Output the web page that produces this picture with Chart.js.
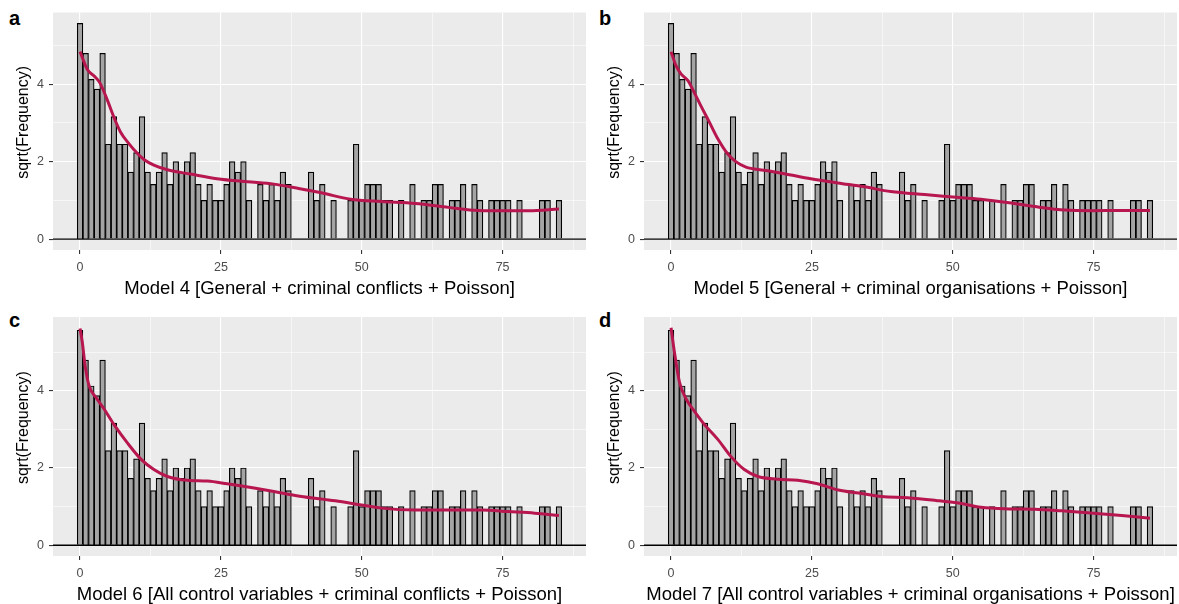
<!DOCTYPE html>
<html><head><meta charset="utf-8">
<script src="https://cdn.jsdelivr.net/npm/chart.js@4"></script>
<style>
html,body{margin:0;padding:0;background:#fff;width:1179px;height:604px;overflow:hidden;position:relative;}
canvas{position:absolute;}
.lbl{position:absolute;font:bold 20px "Liberation Sans",Arial,sans-serif;color:#000;line-height:23px;}
</style></head><body>
<div class="lbl" style="left:9px;top:7px">a</div>
<div class="lbl" style="left:599px;top:7px">b</div>
<div class="lbl" style="left:9px;top:309px">c</div>
<div class="lbl" style="left:599px;top:309px">d</div>
<canvas id="pa" width="590" height="302" style="left:0;top:0"></canvas>
<canvas id="pb" width="588" height="302" style="left:591px;top:0"></canvas>
<canvas id="pc" width="590" height="306" style="left:0;top:302px"></canvas>
<canvas id="pd" width="588" height="306" style="left:591px;top:302px"></canvas>
<script>
// ---- data ----
const countValues = Array.from({length: 86}, (_, k) => k); // 0..85
const frequency = [31,23,17,15,23,6,10,6,6,3,
                   5,10,3,2,3,5,2,4,3,4,
                   5,2,1,2,1,1,2,4,3,4,
                   1,0,2,1,2,1,3,2,0,0,
                   0,3,1,2,0,1,0,0,1,6,
                   1,2,2,2,1,1,0,1,0,2,
                   0,1,1,2,2,0,1,1,2,0,
                   2,1,0,1,1,1,1,0,1,0,
                   0,0,1,1,0,1];
const xTickValues = [0, 25, 50, 75];
const yTickValues = [0, 2, 4];

// fitted curves (sqrt of expected frequency)
const m4x = [0,1.3,2.5,3.5,4.9,6,7.2,8.7,10.2,11.4,13.1,15.5,19.6,24.3,29.7,34.4,39,43,48,53.5,59.5,65.4,70.7,75,79.6,85];
const m4y = [4.84,4.38,4.21,4.04,3.57,3.15,2.76,2.46,2.21,2.05,1.91,1.79,1.68,1.56,1.48,1.42,1.30,1.19,1.03,0.97,0.92,0.82,0.74,0.73,0.73,0.78];
const m5x = [0,0.9,1.8,3,4.1,5.3,6.8,8.3,10,11.5,13.3,16.5,20.1,24.8,29.6,34.3,39,45,50,55,60,64.6,70,74.6,80,85];
const m5y = [4.84,4.47,4.26,4.09,3.79,3.44,3.02,2.59,2.21,2.0,1.86,1.78,1.69,1.56,1.45,1.35,1.23,1.15,1.09,1.03,0.94,0.84,0.75,0.735,0.74,0.74];
const m6x = [0,0.4,0.9,1.6,2.8,4.3,6,8.4,10.8,13.1,15.5,19,22.6,26.1,30.9,34.4,39,45.3,50,53.5,59.5,65.4,71.3,76,80.7,85];
const m6y = [5.61,5.26,4.65,4.13,3.83,3.52,3.13,2.65,2.23,1.96,1.78,1.68,1.66,1.59,1.48,1.39,1.27,1.15,1.04,0.96,0.91,0.91,0.91,0.87,0.83,0.77];
const m7x = [0,0.6,1.5,2.7,4.1,5.9,8.3,10.6,13,15.4,18.9,22.5,26,29.7,33.3,37.4,42,47,51,55,60,64.6,69.3,74,80,85];
const m7y = [5.63,5.0,4.22,3.78,3.48,3.13,2.74,2.30,1.96,1.78,1.71,1.68,1.59,1.43,1.35,1.26,1.23,1.16,1.09,0.98,0.94,0.93,0.89,0.84,0.77,0.70];

const titles = [
  'Model 4 [General + criminal conflicts + Poisson]',
  'Model 5 [General + criminal organisations + Poisson]',
  'Model 6 [All control variables + criminal conflicts + Poisson]',
  'Model 7 [All control variables + criminal organisations + Poisson]'
];
const yTitle = '    sqrt(Frequency)';

// ---- drawing ----
const FAM = '"Liberation Sans", Arial, sans-serif';
const xMin = -4.8, xMax = 89.8, yMin = -0.28;

const panelBg = {
  id: 'panelBg',
  beforeDraw(chart) {
    const {ctx, chartArea: a} = chart;
    ctx.save(); ctx.fillStyle = '#EBEBEB';
    ctx.fillRect(a.left, a.top, a.right - a.left, a.bottom - a.top);
    ctx.restore();
  }
};

function isMajor(v, list) { return list.indexOf(v) >= 0; }

function makePanel(id, cx, cy, yMax, topPad, rightPad, title) {
  const bars = countValues.map((k, i) => ({x: k, y: frequency[i] > 0 ? Math.sqrt(frequency[i]) : null}));
  const curve = cx.map((x, i) => ({x: x, y: cy[i]}));
  const xTicksAll = [];
  for (let v = 0; v <= 87.5; v += 12.5) xTicksAll.push(v);
  const yTicksAll = [0, 1, 2, 3, 4, 5];
  new Chart(document.getElementById(id), {
    type: 'bar',
    data: {datasets: [
      {type: 'line', data: curve, borderColor: '#B8164F', borderWidth: 3, pointRadius: 0,
       cubicInterpolationMode: 'monotone', fill: false, order: 1},
      {type: 'line', data: [{x: xMin, y: 0}, {x: xMax, y: 0}], borderColor: '#000', borderWidth: 1.4,
       pointRadius: 0, fill: false, order: 2},
      {type: 'bar', data: bars, backgroundColor: '#A4A4A4', borderColor: '#000', borderWidth: 1.2,
       borderSkipped: 'start', barPercentage: 1, categoryPercentage: 1, order: 3}
    ]},
    options: {
      responsive: false, animation: false, events: [], devicePixelRatio: 1,
      layout: {padding: {top: topPad, right: rightPad, left: 0, bottom: 0}},
      plugins: {legend: {display: false}, tooltip: {enabled: false}},
      scales: {
        x: {
          type: 'linear', min: xMin, max: xMax, offset: false, border: {display: false},
          afterBuildTicks: s => { s.ticks = xTicksAll.map(v => ({value: v})); },
          afterFit: s => { s.height = 52; },
          grid: {offset: false, color: '#FFFFFF',
            lineWidth: c => (c.tick && isMajor(c.tick.value, xTickValues)) ? 1.1 : 0.55,
            tickColor: c => (c.tick && isMajor(c.tick.value, xTickValues)) ? '#333333' : 'rgba(0,0,0,0)',
            tickLength: 4, tickWidth: 1.1},
          ticks: {callback: v => isMajor(v, xTickValues) ? String(v) : '', autoSkip: false, maxRotation: 0,
            font: {family: FAM, size: 12.5}, color: '#4D4D4D', padding: 6},
          title: {display: true, text: title, font: {family: FAM, size: 18.5}, color: '#000',
            padding: {top: 0, bottom: 1.5}}
        },
        y: {
          type: 'linear', min: yMin, max: yMax, border: {display: false},
          afterBuildTicks: s => { s.ticks = yTicksAll.map(v => ({value: v})); },
          afterFit: s => { s.width = 53; },
          grid: {color: '#FFFFFF',
            lineWidth: c => (c.tick && isMajor(c.tick.value, yTickValues)) ? 1.1 : 0.55,
            tickColor: c => (c.tick && isMajor(c.tick.value, yTickValues)) ? '#333333' : 'rgba(0,0,0,0)',
            tickLength: 4, tickWidth: 1.1},
          ticks: {callback: v => isMajor(v, yTickValues) ? String(v) : '',
            font: {family: FAM, size: 12.5}, color: '#4D4D4D', padding: 5},
          title: {display: true, text: yTitle, font: {family: FAM, size: 16}, color: '#000',
            padding: {top: 14, bottom: 0}}
        }
      }
    },
    plugins: [panelBg]
  });
}

makePanel('pa', m4x, m4y, 5.85, 11, 4, titles[0]);
makePanel('pb', m5x, m5y, 5.85, 11, 2, titles[1]);
makePanel('pc', m6x, m6y, 5.91, 15, 4, titles[2]);
makePanel('pd', m7x, m7y, 5.91, 15, 2, titles[3]);
</script>
</body></html>
